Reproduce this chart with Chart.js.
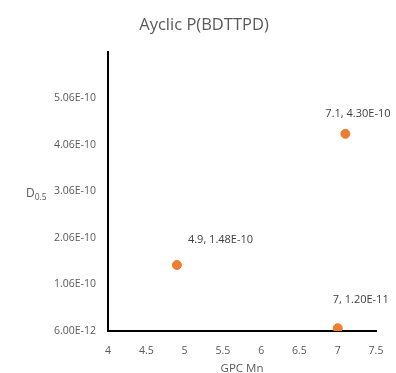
<!DOCTYPE html>
<html>
<head>
<meta charset="utf-8">
<script src="https://cdn.jsdelivr.net/npm/chart.js@4"></script>
<style>
  html, body { margin: 0; padding: 0; background: #fff; }
  #wrap { width: 396px; height: 373px; }
</style>
</head>
<body>
<div id="wrap"><canvas id="c" width="396" height="373"></canvas></div>
<script>
// GPC Mn vs D0.5 for acyclic P(BDTTPD)
const mnValues = [4.9, 7.1, 7];
const dValues = [1.48e-10, 4.30e-10, 1.20e-11];
const yTickValues = [6.00e-12, 1.06e-10, 2.06e-10, 3.06e-10, 4.06e-10, 5.06e-10];
const yTickLabels = ['6.00E-12', '1.06E-10', '2.06E-10', '3.06E-10', '4.06E-10', '5.06E-10'];
const xTickLabels = ['4', '4.5', '5', '5.5', '6', '6.5', '7', '7.5'];
const chartTitle = 'Ayclic P(BDTTPD)';

// label placement relative to each point (dx, dy in px)
const labelOffsets = [[11, -25], [-20, -20], [-5, -28]];

const GRAY = '#595959';
const FONT = "'Open Sans', sans-serif";

const fmt = v => v.toExponential(2).toUpperCase();

const labelsPlugin = {
  id: 'pointLabels',
  afterDatasetsDraw(chart) {
    const ctx = chart.ctx;
    const meta = chart.getDatasetMeta(0);
    ctx.save();
    ctx.font = '11px ' + FONT;
    ctx.fillStyle = '#404040';
    ctx.textAlign = 'left';
    ctx.textBaseline = 'middle';
    meta.data.forEach((pt, i) => {
      const txt = mnValues[i] + ', ' + fmt(dValues[i]);
      const o = labelOffsets[i];
      ctx.fillText(txt, pt.x + o[0], pt.y + o[1]);
    });
    ctx.restore();
  }
};

// title and the subscripted y-axis title
const textPlugin = {
  id: 'extraText',
  afterDraw(chart) {
    const ctx = chart.ctx;
    const y = chart.scales.y;
    const cy = y.getPixelForValue(3.06e-10);
    ctx.save();
    ctx.fillStyle = GRAY;
    ctx.textAlign = 'center';
    ctx.textBaseline = 'middle';
    ctx.font = '16.5px ' + FONT;
    ctx.fillText(chartTitle, 204, 25);

    ctx.textBaseline = 'alphabetic';
    ctx.textAlign = 'left';
    ctx.font = '12px ' + FONT;
    ctx.fillText('D', 26, cy + 5);
    const w = ctx.measureText('D').width;
    ctx.font = '8.5px ' + FONT;
    ctx.fillText('0.5', 26 + w, cy + 8);
    ctx.restore();
  }
};

new Chart(document.getElementById('c'), {
  type: 'scatter',
  data: {
    datasets: [{
      data: mnValues.map((x, i) => ({ x: x, y: dValues[i] })),
      backgroundColor: '#ED7D31',
      borderColor: '#ED7D31',
      pointRadius: 4.5,
      pointHoverRadius: 4.5
    }]
  },
  options: {
    responsive: false,
    animation: false,
    layout: { padding: { left: 0, right: 20, top: 52, bottom: 0 } },
    plugins: {
      legend: { display: false },
      tooltip: { enabled: false },
      title: { display: false }
    },
    scales: {
      x: {
        type: 'linear',
        min: 4,
        max: 7.5,
        ticks: {
          stepSize: 0.5,
          color: GRAY,
          font: { family: FONT, size: 10.5 },
          padding: 6,
          callback(value, index) { return xTickLabels[index]; }
        },
        grid: { display: false },
        border: { display: true, color: '#000', width: 2 },
        title: {
          display: true,
          text: 'GPC Mn',
          color: GRAY,
          font: { family: FONT, size: 11.5 },
          padding: { top: 6, bottom: -3 }
        },
        afterFit(scale) { scale.height = 42; }
      },
      y: {
        type: 'linear',
        min: 6.00e-12,
        max: 6.06e-10,
        afterBuildTicks(scale) {
          scale.ticks = yTickValues.map(v => ({ value: v }));
        },
        ticks: {
          color: GRAY,
          font: { family: FONT, size: 10.5 },
          padding: 4,
          callback(value, index) { return yTickLabels[index]; }
        },
        grid: { display: false },
        border: { display: true, color: '#000', width: 2 },
        afterFit(scale) { scale.width = 108; }
      }
    }
  },
  plugins: [labelsPlugin, textPlugin]
});
</script>
</body>
</html>
